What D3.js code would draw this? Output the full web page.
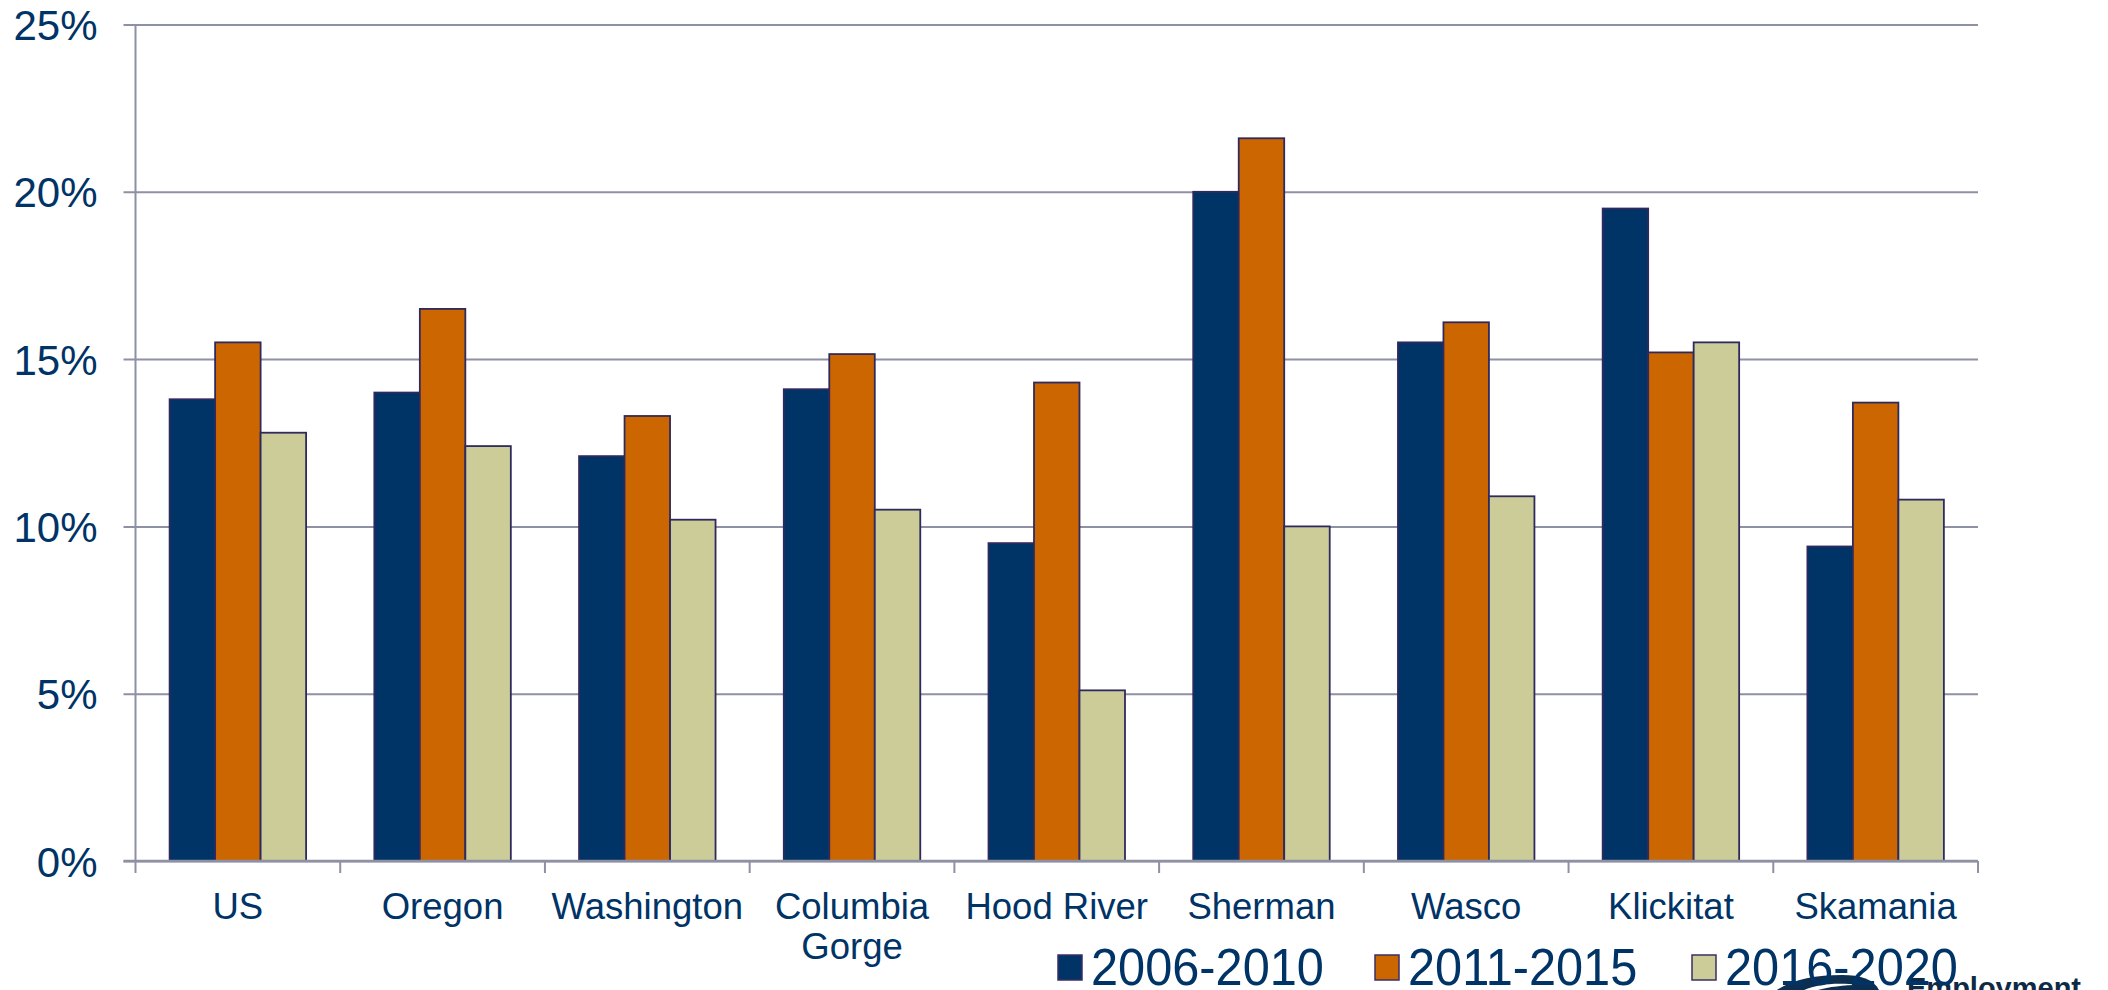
<!DOCTYPE html>
<html>
<head>
<meta charset="utf-8">
<script src="https://cdn.jsdelivr.net/npm/d3@7"></script>
<style>
  html, body { margin: 0; padding: 0; background: #fff; }
  svg { display: block; font-family: "Liberation Sans", Arial, sans-serif; }
</style>
</head>
<body>
<div id="wrapper"></div>
<script>
// data
const categories = ["US", "Oregon", "Washington", "Columbia Gorge", "Hood River", "Sherman", "Wasco", "Klickitat", "Skamania"];
const seriesNames = ["2006-2010", "2011-2015", "2016-2020"];
const values2006 = [0.138, 0.140, 0.121, 0.141, 0.095, 0.200, 0.155, 0.195, 0.094];
const values2011 = [0.155, 0.165, 0.133, 0.1515, 0.143, 0.216, 0.161, 0.152, 0.137];
const values2016 = [0.128, 0.124, 0.102, 0.105, 0.051, 0.100, 0.109, 0.155, 0.108];
const yTicks = [0, 0.05, 0.10, 0.15, 0.20, 0.25];
const colors = ["#003366", "#cc6600", "#cccc99"];

const allSeries = [values2006, values2011, values2016];

// dimensions
const dimensions = {
  width: 2108, height: 990,
  margins: { top: 24.5, right: 130, bottom: 129, left: 135.5 }
};
dimensions.boundedWidth = dimensions.width - dimensions.margins.left - dimensions.margins.right;
dimensions.boundedHeight = dimensions.height - dimensions.margins.top - dimensions.margins.bottom;

const textColor = "#003366";
const gridColor = "#8e90a4";

const svg = d3.select("#wrapper").append("svg")
  .attr("width", dimensions.width).attr("height", dimensions.height);

const bounds = svg.append("g")
  .attr("transform", `translate(${dimensions.margins.left},${dimensions.margins.top})`);

// scales
const xScale = d3.scaleBand()
  .domain(categories).range([0, dimensions.boundedWidth])
  .paddingInner(0).paddingOuter(0);
// excel style gap width 150%
const xInner = d3.scaleBand()
  .domain(seriesNames).range([0, xScale.bandwidth()])
  .paddingInner(0).paddingOuter(0.75);
const yScale = d3.scaleLinear()
  .domain([0, 0.25]).range([dimensions.boundedHeight, 0]);

// gridlines + y labels
const yAxisGen = d3.axisLeft(yScale)
  .tickValues(yTicks)
  .tickFormat(d3.format(".0%"))
  .tickSizeInner(-dimensions.boundedWidth)
  .tickSizeOuter(0)
  .tickPadding(38);
const yAxis = bounds.append("g").call(yAxisGen);
yAxis.select(".domain").remove();
yAxis.selectAll(".tick line")
  .attr("x1", -12)
  .attr("stroke", gridColor).attr("stroke-width", 2);
yAxis.selectAll(".tick text")
  .attr("fill", textColor)
  .attr("font-size", "42px")
  .attr("font-family", "'Liberation Sans', Arial, sans-serif")
  .attr("dy", "0.36em");

// bars
const groups = bounds.selectAll("g.cat")
  .data(categories).enter().append("g")
  .attr("class", "cat")
  .attr("transform", d => `translate(${xScale(d)},0)`);

groups.selectAll("rect")
  .data((d, i) => seriesNames.map((s, j) => ({ series: s, idx: j, value: allSeries[j][i] })))
  .enter().append("rect")
  .attr("x", d => xInner(d.series))
  .attr("y", d => yScale(d.value))
  .attr("width", xInner.bandwidth())
  .attr("height", d => dimensions.boundedHeight - yScale(d.value))
  .attr("fill", d => colors[d.idx])
  .attr("stroke", "#2f2a5e").attr("stroke-width", 1.8);

// y axis line
bounds.append("line")
  .attr("x1", 0).attr("x2", 0)
  .attr("y1", 0).attr("y2", dimensions.boundedHeight)
  .attr("stroke", gridColor).attr("stroke-width", 2);

// x axis
const xAxisGen = d3.axisBottom(xScale).tickSize(0).tickFormat("");
const xAxis = bounds.append("g")
  .attr("transform", `translate(0,${dimensions.boundedHeight})`)
  .call(xAxisGen);
xAxis.select(".domain").attr("stroke", gridColor).attr("stroke-width", 2.5)
  .attr("d", `M-12,0H${dimensions.boundedWidth}`);

// category boundary ticks
const boundaries = categories.map(c => xScale(c)).concat([dimensions.boundedWidth]);
xAxis.selectAll("line.sep")
  .data(boundaries).enter().append("line")
  .attr("class", "sep")
  .attr("x1", d => d).attr("x2", d => d)
  .attr("y1", 0).attr("y2", 12)
  .attr("stroke", gridColor).attr("stroke-width", 2);

// category labels with wrapping
const catLabels = xAxis.selectAll("text.cat")
  .data(categories).enter().append("text")
  .attr("class", "cat")
  .attr("x", d => xScale(d) + xScale.bandwidth() / 2)
  .attr("y", 58)
  .attr("text-anchor", "middle")
  .attr("fill", textColor)
  .attr("font-size", "36.5px");

catLabels.each(function(d) {
  const t = d3.select(this);
  t.text(d);
  if (this.getComputedTextLength() > xScale.bandwidth() - 8) {
    t.text(null);
    d.split(" ").forEach((w, i) => {
      t.append("tspan").attr("x", xScale(d) + xScale.bandwidth() / 2)
        .attr("dy", i === 0 ? 0 : 40).text(w);
    });
  }
});

// logo (bottom right)
const logo = svg.append("g");
logo.append("path")
  .attr("d", "M1774,992 C1790,980 1815,975 1842,975 C1862,975 1875,980 1880,992 Z")
  .attr("fill", "#0d2f4f");
logo.append("path")
  .attr("d", "M1800,992 C1815,984 1835,982 1860,985 C1840,985 1822,988 1812,992 Z")
  .attr("fill", "#ffffff");
logo.append("text")
  .attr("x", 1907).attr("y", 998)
  .attr("font-size", "29px").attr("font-weight", "bold")
  .attr("fill", "#0f2a44")
  .text("Employment");

// legend
const legend = svg.append("g");
const legendItems = legend.selectAll("g")
  .data(seriesNames).enter().append("g")
  .attr("transform", (d, i) => `translate(${1058 + i * 317},0)`);
legendItems.append("rect")
  .attr("x", 0).attr("y", 955)
  .attr("width", 24).attr("height", 25)
  .attr("fill", (d, i) => colors[i])
  .attr("stroke", "#3b2f66").attr("stroke-width", 1.5);
legendItems.append("text")
  .attr("transform", "translate(33,985) scale(0.955,1)")
  .attr("font-size", "51px")
  .attr("fill", textColor)
  .text(d => d);
</script>
</body>
</html>
